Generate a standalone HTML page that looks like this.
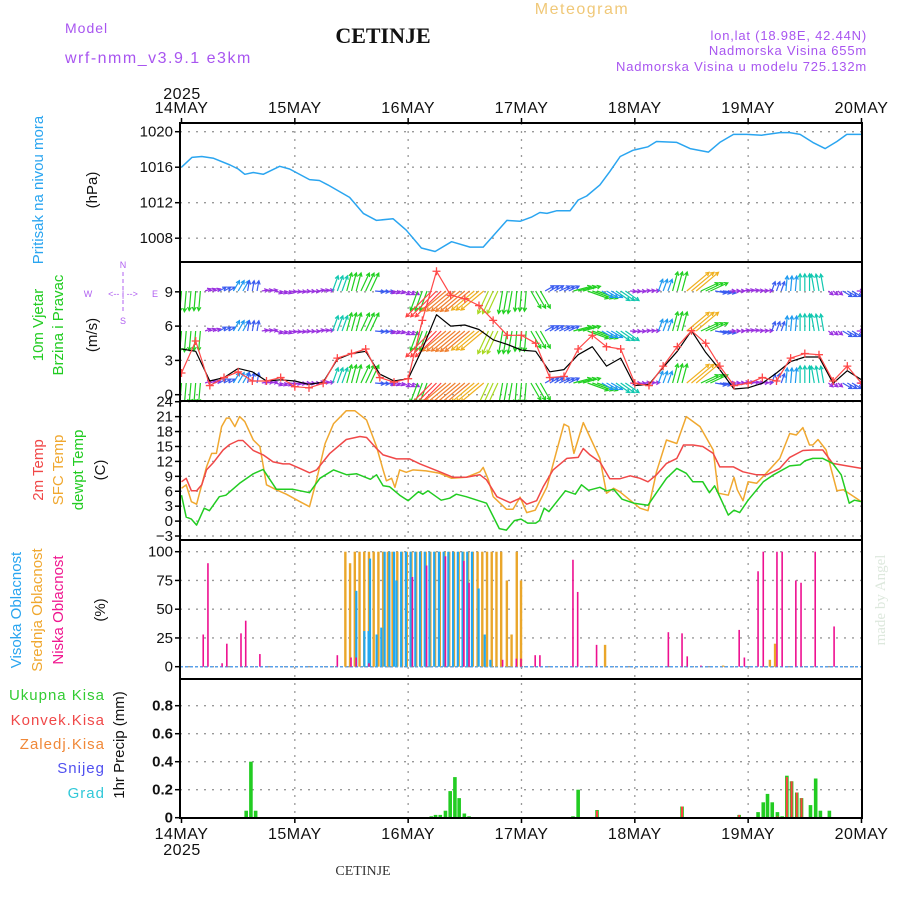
<!DOCTYPE html>
<html><head><meta charset="utf-8"><style>
html,body{margin:0;padding:0;background:#fff;}
svg{display:block;font-family:"Liberation Sans",sans-serif;}
</style></head><body>
<svg id="chart" width="900" height="900" viewBox="0 0 900 900" xmlns="http://www.w3.org/2000/svg">
<defs>
<clipPath id="clipWind"><rect x="180" y="262" width="682" height="139"/></clipPath>
<clipPath id="clipAll"><rect x="180" y="123" width="682" height="695"/></clipPath>
</defs>
<g>
<text x="65" y="33" font-size="14" fill="#a855f0" letter-spacing="1">Model</text>
<text x="65" y="63" font-size="16" fill="#a855f0" letter-spacing="1.5">wrf-nmm_v3.9.1 e3km</text>
<text x="383" y="43" font-size="22" font-weight="bold" font-family="Liberation Serif,serif" text-anchor="middle" fill="#111">CETINJE</text>
<text x="582" y="14" font-size="16" fill="#f0c878" text-anchor="middle" letter-spacing="1.5">Meteogram</text>
<text x="867" y="40" font-size="13" fill="#a855f0" text-anchor="end" letter-spacing="0.8">lon,lat (18.98E, 42.44N)</text>
<text x="867" y="55" font-size="13" fill="#a855f0" text-anchor="end" letter-spacing="0.8">Nadmorska Visina 655m</text>
<text x="867" y="71" font-size="13" fill="#a855f0" text-anchor="end" letter-spacing="0.8">Nadmorska Visina u modelu 725.132m</text>
</g>
<g>
<text transform="translate(43,190) rotate(-90)" font-size="15" fill="#2aa5f0" text-anchor="middle">Pritisak na nivou mora</text>
<text transform="translate(97,190) rotate(-90)" font-size="15" fill="#111" text-anchor="middle">(hPa)</text>
<text transform="translate(43,325) rotate(-90)" font-size="15" fill="#22cc22" text-anchor="middle">10m Vjetar</text>
<text transform="translate(63,325) rotate(-90)" font-size="15" fill="#22cc22" text-anchor="middle">Brzina i Pravac</text>
<text transform="translate(97,335) rotate(-90)" font-size="15" fill="#111" text-anchor="middle">(m/s)</text>
<g fill="#b060f0" font-size="9" text-anchor="middle">
<text x="123" y="268">N</text><text x="123" y="324">S</text><text x="88" y="297">W</text><text x="155" y="297">E</text>
<text x="123" y="297">&lt;-- | --&gt;</text>
<line x1="123" y1="272" x2="123" y2="314" stroke="#b060f0" stroke-dasharray="4,3"/>
</g>
<text transform="translate(43,470) rotate(-90)" font-size="15" fill="#f04848" text-anchor="middle">2m Temp</text>
<text transform="translate(63,470) rotate(-90)" font-size="15" fill="#f0a830" text-anchor="middle">SFC Temp</text>
<text transform="translate(83,470) rotate(-90)" font-size="15" fill="#22cc22" text-anchor="middle">dewpt Temp</text>
<text transform="translate(105,470) rotate(-90)" font-size="15" fill="#111" text-anchor="middle">(C)</text>
<text transform="translate(21,610) rotate(-90)" font-size="15" fill="#2aa5f0" text-anchor="middle">Visoka Oblacnost</text>
<text transform="translate(42,610) rotate(-90)" font-size="15" fill="#f0a830" text-anchor="middle">Srednja Oblacnost</text>
<text transform="translate(63,610) rotate(-90)" font-size="15" fill="#f01890" text-anchor="middle">Niska Oblacnost</text>
<text transform="translate(105,610) rotate(-90)" font-size="15" fill="#111" text-anchor="middle">(%)</text>
<text x="105" y="700" font-size="15" fill="#33cc33" text-anchor="end" letter-spacing="1">Ukupna Kisa</text>
<text x="105" y="725" font-size="15" fill="#f04848" text-anchor="end" letter-spacing="1">Konvek.Kisa</text>
<text x="105" y="749" font-size="15" fill="#f08838" text-anchor="end" letter-spacing="1">Zaledj.Kisa</text>
<text x="105" y="773" font-size="15" fill="#5050f0" text-anchor="end" letter-spacing="1">Snijeg</text>
<text x="105" y="798" font-size="15" fill="#30c8d8" text-anchor="end" letter-spacing="1">Grad</text>
<text transform="translate(124,745) rotate(-90)" font-size="15" fill="#111" text-anchor="middle">1hr Precip (mm)</text>
<text transform="translate(885,600) rotate(-90)" font-size="15" fill="#dde8dd" text-anchor="middle" font-family="Liberation Serif,serif">made by Angel</text>
<text x="363" y="875" font-size="14" fill="#333" text-anchor="middle" font-family="Liberation Serif,serif">CETINJE</text>
</g>
<g id="grid"></g>
<g id="marks" clip-path="url(#clipAll)"></g>
<g id="axes"></g>
</svg>
<script>
// ---- data ----
const dayLabels = ["14MAY","15MAY","16MAY","17MAY","18MAY","19MAY","20MAY"];
const pressHours = [0,2.2,4.3,6.8,10.3,12,13.4,15.2,17.3,20.8,22.9,27.1,29.2,31,35.6,38.5,41.3,44.8,47.6,50.8,53.7,57.2,61.1,63.9,68.9,71.7,74.2,75.9,77.4,79.5,82.3,84,85.8,88.6,90.7,92.9,95.6,98.8,100.6,104.9,107.7,111.6,114,116.9,119.7,122.9,126.7,128.8,131,133.7,136.3,138.8,140.9,144];
const pressVals = [1016,1017.1,1017.2,1017,1016.25,1015.8,1015.2,1015.4,1015.2,1016.1,1015.8,1014.6,1014.5,1014,1012.6,1010.8,1010,1010.2,1008.9,1006.9,1006.5,1007.6,1007,1007,1010,1009.9,1010.4,1010.9,1010.8,1011.1,1011.1,1012.3,1012.75,1014,1015.5,1017.2,1017.9,1018.3,1018.9,1018.8,1018.1,1017.7,1018.8,1019.7,1019.7,1019.6,1019.9,1019.9,1019.7,1018.8,1018.1,1018.9,1019.7,1019.7];
const pressTicks = [1008,1012,1016,1020];

const windHours = [0,3,6,9,12,15,18,21,24,27,30,33,36,39,42,45,48,51,54,57,60,63,66,69,72,75,78,81,84,87,90,93,96,99,102,105,108,111,114,117,120,123,126,129,132,135,138,141,144];
const windSpeed = [4.0,3.8,1.2,1.5,2.3,2.0,1.2,1.3,1.2,0.9,1.1,3.1,3.6,3.8,1.8,1.2,1.4,4.0,7.0,6.0,6.1,5.7,4.8,4.4,3.9,3.8,2.0,2.2,3.5,4.2,2.5,3.2,0.8,0.9,2.4,3.8,5.6,3.7,2.2,0.5,0.6,1.0,1.9,2.9,3.3,3.3,1.0,2.1,1.3];
const windGust = [1.9,4.7,0.8,1.5,2.0,1.2,1.2,1.5,0.7,0.6,1.0,3.2,3.6,4.0,1.5,1.1,1.4,6.5,10.8,8.7,8.4,7.8,6.5,5.2,5.2,4.5,1.5,1.6,4.0,5.2,4.2,4.0,1.0,0.8,2.5,4.2,5.6,4.5,2.5,0.8,1.0,1.5,1.2,3.2,3.6,3.5,1.2,2.5,1.0];
const windAngle = [-95,-95,20,30,60,80,10,-20,-10,-5,10,70,75,65,-5,-20,-30,-110,-135,-140,-140,-140,-115,-100,-95,-60,30,25,15,-20,-30,-35,-5,5,70,75,40,25,-10,0,10,5,70,85,90,100,-40,-30,0];
const windTicks = [0,3,6,9];

const t2Hours = [0,1,2.1,3.2,4.3,5.3,6.7,8.8,10.2,12,13,15.2,17.3,19.4,21.5,22.9,25.1,27.1,28.6,31.4,34.9,37.8,39.2,41.3,42.7,45.5,48.3,50.5,54.7,57.5,60.3,63.2,64.6,66.8,69.6,71.7,73.1,75.2,76.6,78.7,81.6,84,85.1,86.5,88.6,90.7,92.8,95,97.1,98.8,100.6,102.7,104.9,106.3,108.3,110.4,112.6,114,116.9,118.9,121.8,123.9,126.7,128.8,131.6,133.7,135.8,137.9,140.9,144];
const t2Vals = [7.9,8.6,6.1,6.1,7.3,10.3,11.7,14.3,15.4,16.2,16.2,14.2,13.3,11.9,11.5,11.5,10.6,9.7,10.3,13.6,16.4,17.0,16.8,14.6,13.3,12.5,12.5,11.5,9.9,8.8,8.8,9.3,8.3,4.9,3.7,4.6,3.4,4.1,6.9,10.3,12.6,12.8,14.6,13.3,11.9,8.5,8.5,9.1,8.6,7.9,9.3,11.6,12.6,15.3,15.3,15.0,13.6,10.9,10.9,9.9,9.3,9.3,10.6,12.8,14.2,14.3,14.3,11.6,11.1,10.6];
const sfcHours = [0,1,2.1,3.2,5.3,6.4,7.4,8.5,9.5,10.2,11.3,12.3,13.4,15.2,16.6,18,20.1,22.2,25.1,27.1,28.6,30.4,32.2,34.9,36.7,39.2,41.3,42.7,43.4,44.5,45.2,46.2,47.6,49,51.8,54.7,57.2,60.3,63.2,63.9,65,66,68.8,70.2,71.7,73.1,74.9,77.4,79.5,81,82,83.1,85.1,86.3,88.6,90,91.5,92.8,95,97.1,98.8,100.6,102.7,104.9,106.9,109.8,112.6,113.7,115.8,117,117.7,118.9,120,121.8,123.9,126.7,128.8,130.2,131.6,133,133.7,134.8,136.5,138.8,140.2,144];
const sfcVals = [6.6,7.3,3.9,3.4,10.9,13.6,13.6,19.0,20.7,20.7,19.0,21.0,20.0,16.3,15.0,7.3,6.3,5.4,3.9,2.9,8.3,15.6,19.6,22.2,22.2,20.3,15.0,10.3,8.1,8.6,6.8,10.3,9.8,10.3,10.1,9.6,8.6,8.8,9.9,10.8,8.3,4.9,2.4,2.4,4.8,1.7,2.2,6.9,14.3,19.5,19.0,13.6,19.8,17.3,12.6,5.6,6.6,5.9,4.2,2.6,2.1,9.9,16.3,15.6,21.0,19.0,14.3,5.6,5.2,8.8,6.3,4.1,7.9,7.6,9.7,12.6,17.6,17.3,18.8,15.3,15.3,16.4,14.3,6.1,6.3,3.9];
const dewHours = [0,1,2.1,3.2,4.8,5.9,8,9.4,12.3,15.2,17.3,20.1,23.6,27.1,29.3,32.2,35,37.1,40,41.3,42.7,44.1,46.2,48,50.2,51.1,52.2,55,56.8,58.2,60.3,64.6,67.3,68.8,70.5,71.9,73.3,75,75.8,76.8,77.8,81.3,83.4,84.7,86.2,88.6,90,91.5,93.3,95.8,98.8,100.6,102.7,104.9,106.9,108.3,110.4,111.8,112.9,114,115.8,117,118.2,120,123.2,125.4,128.8,131,132,133.7,135.8,137.9,139.7,141.4,142.5,144];
const dewVals = [5.2,0.8,0.4,-0.8,2.6,2.1,4.9,5.2,7.6,9.5,10.4,6.4,6.4,5.7,8.6,10.3,9.3,9.5,8.4,9.3,7.1,6.9,5.2,4.1,5.9,5.4,6.1,4.2,4.6,5.4,4.9,3.6,-1.5,-1.8,0.1,0.4,-0.4,-0.4,0.1,2.6,1.9,6.1,5.4,7.3,6.2,6.8,6.1,6.4,4.4,3.6,3.2,5.7,8.6,10.6,9.6,7.9,7.9,5.7,7.1,4.9,1.2,2.2,1.7,4.2,7.9,9.3,11.1,11.3,12.1,12.6,12.6,11.6,9.3,3.6,4.2,3.9];
const tempTicks = [-3,0,3,6,9,12,15,18,21,24];

const midHours = [34.7,35.7,36.7,37.7,38.7,39.7,40.7,41.7,42.7,43.7,44.7,45.7,46.7,47.7,48.7,49.7,50.7,51.7,52.7,53.7,54.7,55.7,56.7,57.7,58.7,59.7,60.7,61.7,62.7,63.7,64.7,65.7,66.7,67.7,68.9,69.9,71,71.9,89.7,114.7,124.6,125.7];
const midVals = [100,90,100,100,100,100,100,100,100,100,100,100,100,100,100,100,100,100,100,100,100,100,100,100,100,100,100,100,100,100,100,100,100,100,75,28,100,75,19,1,6,20];
const highHours = [36.7,38.4,39.3,39.6,41,42,42.7,43.7,44.7,45.2,46.2,47.2,48.2,49.2,50.2,51.2,52.2,53.2,54.2,55.2,56.2,57.2,58.2,59.2,60.2,61.2,62.6,63.9,65.1];
const highVals = [66,31,31,94,28,34,100,100,100,75,100,100,100,100,100,100,100,100,100,100,100,100,100,100,100,100,68,28,6];
const lowHours = [4.6,5.6,8.6,9.6,12.6,13.6,16.6,33.0,35.9,37.0,39.7,48.9,51.9,55.9,59.8,60.9,68.0,70.9,71.9,74.9,75.9,82.9,83.9,87.9,103.1,106.0,107.1,110.0,118.1,119.2,122.1,123.2,126.1,127.2,130.1,131.2,134.2,138.2];
const lowVals = [28,90,3,20,29,40,11,10,8,8,3,78,88,96,92,73,6,7,7,10,10,93,65,19,30,29,9,1,32,8,83,100,100,100,75,73,100,35];
const cloudTicks = [0,25,50,75,100];

const rainHours = [13.7,14.7,15.7,52.9,53.8,54.8,55.9,56.9,57.9,58.8,59.9,60.9,82.9,84.0,88.0,106.0,118.1,122.1,123.2,124.1,125.1,126.2,127.2,128.2,129.2,130.3,131.3,133.2,134.3,135.3,137.2];
const rainVals = [0.05,0.40,0.05,0.01,0.02,0.02,0.05,0.19,0.29,0.14,0.03,0.01,0.01,0.20,0.055,0.08,0.02,0.04,0.11,0.17,0.11,0.04,0.01,0.30,0.26,0.18,0.14,0.09,0.28,0.05,0.05];
const convHours = [88.0,106.0,118.1,126.2,128.2,129.2,130.3,131.3];
const convVals = [0.05,0.08,0.02,0.01,0.29,0.26,0.18,0.14];
const precipTicks = [0,0.2,0.4,0.6,0.8];

// ---- axis functions ----
const X0 = 181.5, PX_PER_H = 113.33/24, LEFT = 180, RIGHT = 862;
const xh = h => X0 + h*PX_PER_H;
const yP = v => 131.7 + (1020 - v)*8.875;
const yW = v => 394.7 - v*11.43;
const yT = v => 401.7 + (24 - v)*4.975;
const yC = v => 666.7 - v*1.15;
const yR = v => 817.7 - v*140;
const panels = [[123,262],[262,401],[401,540],[540,679],[679,818]];

const NS = "http://www.w3.org/2000/svg";
function mk(tag, attrs, parent){ const e=document.createElementNS(NS,tag); for(const k in attrs) e.setAttribute(k,attrs[k]); parent.appendChild(e); return e; }
const grid = document.getElementById('grid'), marks = document.getElementById('marks'), axes = document.getElementById('axes');

function hGrid(ticks, yf, fmt, name, bold){
  ticks.forEach(t=>{
    const y=yf(t);
    const l = mk('line',{x1:LEFT,x2:RIGHT,y1:y,y2:y,stroke:'#999','stroke-dasharray':'2,6','stroke-width':1.3},grid);
    
    
    mk('line',{x1:LEFT-5,x2:LEFT,y1:y,y2:y,stroke:'#000','stroke-width':1.5},axes);
    const tx = mk('text',{x:LEFT-7,y:y+5,'font-size':15,'text-anchor':'end',fill:'#111','font-weight':bold?'bold':'normal'},axes);
    tx.textContent = fmt(t);
    
    
  });
}
// vertical day grid
dayLabels.forEach((d,i)=>{
  const x = xh(i*24);
  if(i>0 && i<6){
    const l = mk('line',{x1:x,x2:x,y1:123,y2:818,stroke:'#999','stroke-dasharray':'2,6','stroke-width':1.3},grid);
    
    
  }
  mk('line',{x1:x,x2:x,y1:118,y2:123,stroke:'#000','stroke-width':1.5},axes);
  mk('line',{x1:x,x2:x,y1:818,y2:823,stroke:'#000','stroke-width':1.5},axes);
  const t1 = mk('text',{x:x,y:113,'font-size':16,'text-anchor':'middle',fill:'#111','letter-spacing':0.5},axes);
  t1.textContent = d;
  
  
  const t2 = mk('text',{x:x,y:839,'font-size':16,'text-anchor':'middle',fill:'#111','letter-spacing':0.5},axes);
  t2.textContent = d;
  
  
});
const y1 = mk('text',{x:182,y:99,'font-size':16,'text-anchor':'middle',fill:'#111','letter-spacing':0.5},axes); y1.textContent='2025';
 
const y2 = mk('text',{x:182,y:855,'font-size':16,'text-anchor':'middle',fill:'#111','letter-spacing':0.5},axes); y2.textContent='2025';
 

hGrid(pressTicks, yP, t=>String(t), 'pressure');
hGrid(windTicks, yW, t=>String(t), 'wind');
hGrid(tempTicks, yT, t=>t<0?'\u2212'+(-t):String(t), 'temp');
hGrid(cloudTicks, yC, t=>String(t), 'cloud');
hGrid(precipTicks, yR, t=>t===0?'0':t.toFixed(1), 'precip', true);

panels.forEach(([a,b],i)=>{
  const r = mk('rect',{x:LEFT,y:a,width:RIGHT-LEFT,height:b-a,fill:'none',stroke:'#000','stroke-width':2},axes);
  
  
});

function line(hours, vals, yf, color, name, w){
  const d = hours.map((h,i)=>(i?'L':'M')+xh(h).toFixed(1)+','+yf(vals[i]).toFixed(1)).join('');
  const p = mk('path',{d:d,fill:'none',stroke:color,'stroke-width':w||1.5,'stroke-linejoin':'round'},marks);
  
  
  return p;
}
line(pressHours, pressVals, yP, '#2aa5f0', 'pressure-line');

// wind
function windColor(s){
  if(s<1.5) return '#9a30e0';
  if(s<2.3) return '#3a5cf0';
  if(s<3.0) return '#1e9af0';
  if(s<3.5) return '#10c8b0';
  if(s<4.5) return '#20d020';
  if(s<5.2) return '#a8d820';
  if(s<6.0) return '#f0b020';
  if(s<6.6) return '#f08030';
  return '#ff4040';
}
const windG = mk('g',{'clip-path':'url(#clipWind)'},marks);


const bases = [291, 331, 383];
windHours.forEach((h,i)=>{
  const s = windSpeed[i], a = windAngle[i]*Math.PI/180, c = windColor(s);
  const L = Math.max(6, s*5.2);
  [-1,0,1].forEach(off=>{
    const hh = h+off; if(hh<0||hh>144) return;
    bases.forEach(b=>{
      const x1 = xh(hh), y1 = b, x2 = x1 + L*Math.cos(a), y2 = y1 - L*Math.sin(a);
      const ha = Math.atan2(y2-y1, x2-x1);
      const hx1 = x2 - 4*Math.cos(ha-0.5), hy1 = y2 - 4*Math.sin(ha-0.5);
      const hx2 = x2 - 4*Math.cos(ha+0.5), hy2 = y2 - 4*Math.sin(ha+0.5);
      const p = mk('path',{d:`M${x1},${y1}L${x2},${y2}M${hx1},${hy1}L${x2},${y2}L${hx2},${hy2}`,stroke:c,fill:'none','stroke-width':1.2},windG);
      
      
    });
  });
});
line(windHours, windSpeed, yW, '#000', 'wind-speed-line', 1.2);
line(windHours, windGust, yW, '#ff4848', 'wind-gust-line', 1.2);
windHours.forEach((h,i)=>{
  const x = xh(h), y = yW(windGust[i]);
  const p = mk('path',{d:`M${x-4},${y}h8M${x},${y-4}v8`,stroke:'#ff4848','stroke-width':1.3},marks);
  
  
});

// temperature
line(sfcHours, sfcVals, yT, '#f0a830', 'sfc-temp-line');
line(t2Hours, t2Vals, yT, '#f04848', 't2m-line');
line(dewHours, dewVals, yT, '#22cc22', 'dewpoint-line');

// clouds
const base = mk('line',{x1:LEFT,x2:RIGHT,y1:yC(0),y2:yC(0),stroke:'#5aa0e8','stroke-width':1.5,'stroke-dasharray':'3,2'},marks);
 
function bars(hours, vals, yf, color, w, off, name){
  hours.forEach((h,i)=>{
    const x = xh(h)+off, y = yf(vals[i]), y0 = yf(0);
    const r = mk('rect',{x:x-w/2,y:Math.min(y,y0),width:w,height:Math.max(0.5,Math.abs(y0-y)),fill:color},marks);
    
    
  });
}
bars(midHours, midVals, yC, '#eaa62a', 2.4, 0, 'mid-cloud-bar');
bars(highHours, highVals, yC, '#22a8f0', 2.2, 1.5, 'high-cloud-bar');
bars(lowHours, lowVals, yC, '#ee1090', 1.6, 0, 'low-cloud-bar');

// precip
bars(rainHours, rainVals, yR, '#22cc22', 3.6, 0, 'rain-bar');
bars(convHours, convVals, yR, '#ff4040', 2, 0, 'convective-rain-bar');
</script>
</body></html>
